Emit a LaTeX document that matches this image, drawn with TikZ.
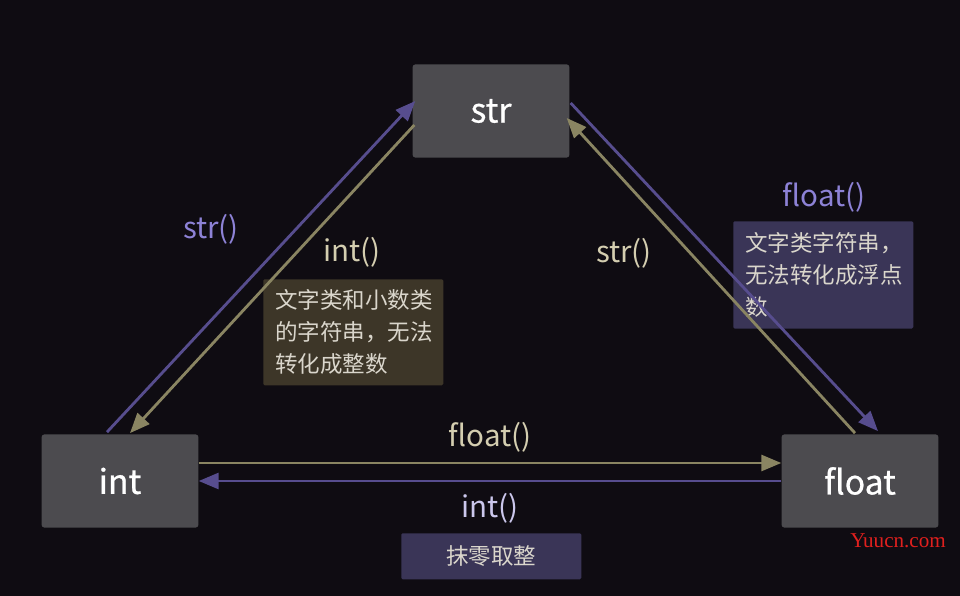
\documentclass[tikz,border=0pt]{standalone}
\usepackage{fontspec}
\setmainfont{Noto Sans CJK SC}
\newfontfamily\tilefont[FakeBold=0.7]{Noto Sans CJK SC}
\newfontfamily\markfont{Liberation Serif}
\usetikzlibrary{arrows.meta,positioning,calc}
\definecolor{bg}{HTML}{0F0C12}
\definecolor{tile}{HTML}{4C4B4F}
\definecolor{violet}{HTML}{574D8E}
\definecolor{khaki}{HTML}{8A8562}
\definecolor{violettext}{HTML}{8D82D6}
\definecolor{lavtext}{HTML}{CBC7EC}
\definecolor{khakitext}{HTML}{D4CEB0}
\definecolor{notekhaki}{HTML}{3D3628}
\definecolor{noteviolet}{HTML}{3A3557}
\definecolor{notetext}{HTML}{DAD6CC}
\definecolor{mark}{HTML}{E0201E}
\tikzset{
  typebox/.style={fill=tile,rounded corners=2pt,minimum width=3.92cm,minimum height=2.33cm,inner sep=0pt,text=white,font=\tilefont\fontsize{24}{27}\selectfont},
  conv/.style={-{Triangle[length=5mm,width=4mm]},line width=2pt,color=#1},
  fn/.style={font=\fontsize{21}{24}\selectfont,text=#1,inner sep=0pt},
  note/.style={fill=#1,rounded corners=1pt,anchor=north west,minimum width=4.5cm,text width=3.9cm,align=left,inner xsep=0.3cm,inner ysep=0pt,text=notetext,font=\fontsize{16}{22.7}\selectfont},
}
\begin{document}
\begin{tikzpicture}[x=0.025cm,y=-0.025cm]
  \fill[bg] (0,0) rectangle (960,596);
  \useasboundingbox (0,0) rectangle (960,596);
  \node[typebox] (str) at (491,111) {str};
  \node[typebox] (int) at (120,481) {int};
  \node[typebox] (float) at (860,481) {float};

  \node[fn=violettext] (strUp) at (211,229) {str()};
  \node[fn=khakitext] (intDown) at (352,252) {int()};
  \node[note=notekhaki,minimum height=2.65cm] (intNote) at (263,279) {文字类和小数类\\的字符串，无法\\转化成整数};
  \node[fn=violettext] (floatDown) at (824,197) {float()};
  \node[note=noteviolet,minimum height=2.68cm] (floatNote) at (733,221) {文字类字符串，\\无法转化成浮点\\数};
  \node[fn=khakitext] (strBack) at (624,253) {str()};
  \node[fn=khakitext] (floatRight) at (490,437) {float()};
  \node[fn=lavtext] (intLeft) at (490,508) {int()};
  \node[note=noteviolet,minimum height=1.15cm,align=center] (roundNote) at (401,533) {抹零取整};
  \node[text=mark,font=\markfont\fontsize{15}{18}\selectfont,inner sep=0pt] (watermark) at (898,541) {Yuucn.com};

  \draw[conv=violet] ($(int.north)+(-13,-2)$) -- ($(str.west)+(3,-10)$);
  \draw[conv=khaki] ($(str.west)+(2,14)$) -- ($(int.north)+(10,-1)$);
  \draw[conv=violet] ($(str.east)+(1,-8)$) -- ($(float.north)+(18,-3)$);
  \draw[conv=khaki] ($(float.north)+(-5,-1)$) -- ($(str.east)+(-3,7)$);
  \draw[conv=khaki] ($(int.east)+(0,-18)$) -- ($(float.west)+(0,-18)$);
  \draw[conv=violet] (float.west) -- (int.east);
\end{tikzpicture}
\end{document}
